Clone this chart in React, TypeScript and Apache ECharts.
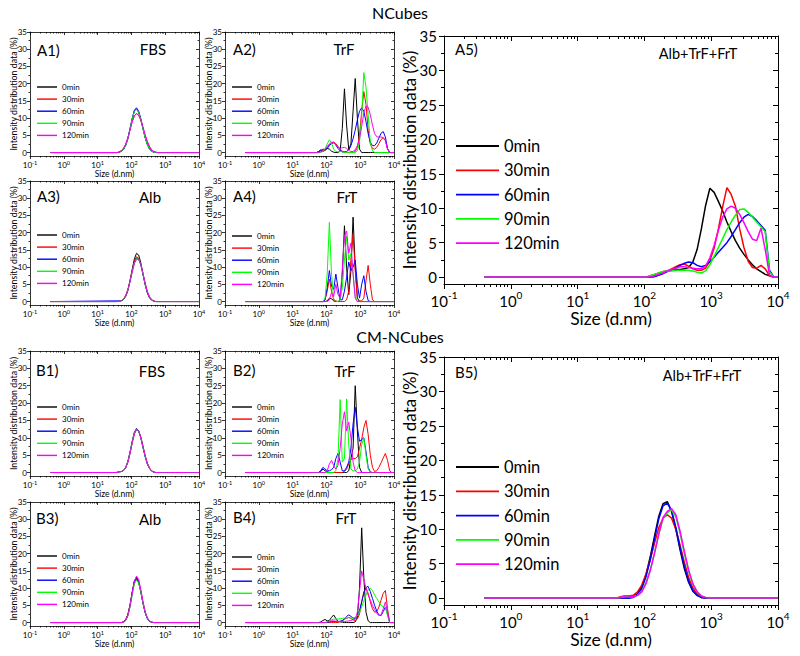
import React, { useEffect, useRef } from 'react';
import * as echarts from 'echarts';

// Zetasizer size bins (nm): first point 0.4 nm, then bins 30..69
const SIZES = [0.4, 32.67, 37.84, 43.82, 50.75, 58.77, 68.06, 78.82, 91.28, 105.7, 122.4, 141.8, 164.2, 190.1, 220.2, 255.0, 295.3, 342.0, 396.1, 458.7, 531.2, 615.1, 712.4, 825.0, 955.4, 1106, 1281, 1484, 1718, 1990, 2305, 2669, 3091, 3580, 4145, 4801, 5560, 6439, 7456, 8635, 10000];
const TIMES = ['0min', '30min', '60min', '90min', '120min'];
const COLORS = ['#000000', '#ff0000', '#0000ff', '#00ff00', '#ff00ff'];
const Y_TICKS = [0, 5, 10, 15, 20, 25, 30, 35];
const Y_MINOR = [2.5, 7.5, 12.5, 17.5, 22.5, 27.5, 32.5];

// ---- NCubes ----
const A1_FBS = [
  [0, 0,0,0.1,0.4,1.0,2.1,4.0,6.8,9.7,12.0, 12.6,11.7,9.6,6.9,4.3,2.4,1.1,0.4,0.1,0, 0,0,0,0,0,0,0,0,0,0, 0,0,0,0,0,0,0,0,0,0],
  [0, 0,0,0.2,0.6,1.3,2.5,4.3,6.7,9.0,10.7, 11.3,10.8,9.3,7.2,5.0,3.1,1.7,0.8,0.3,0.1, 0,0,0,0,0,0,0,0,0,0, 0,0,0,0,0,0,0,0,0,0],
  [0, 0,0,0.1,0.4,1.0,2.2,4.2,7.0,10.0,12.3, 13.0,12.0,9.8,7.0,4.4,2.4,1.1,0.4,0.1,0, 0,0,0,0,0,0,0,0,0,0, 0,0,0,0,0,0,0,0,0,0],
  [0, 0,0,0.1,0.4,1.0,2.1,4.0,6.8,9.7,11.9, 12.5,11.7,9.6,6.9,4.4,2.4,1.1,0.4,0.1,0, 0,0,0,0,0,0,0,0,0,0, 0,0,0,0,0,0,0,0,0,0],
  [0, 0,0,0.1,0.5,1.2,2.4,4.2,6.6,8.9,10.6, 11.3,10.9,9.5,7.4,5.2,3.3,1.8,0.8,0.3,0.1, 0,0,0,0,0,0,0,0,0,0, 0,0,0,0,0,0,0,0,0,0],
];
const A2_TRF = [
  [0, 0,0,0,0,0.3,0.8,0.4,0.6,1.2,1.0, 0.4,0.1,0,0,0.5,7.0,18.5,8.0,0.8,2.5, 12.0,21.5,10.0,1.0,0,0,0,0,0,0, 0,0,0,0,0,0,0,0,0,0],
  [0, 0,0,0,0,0.2,0.5,0.4,0.8,1.5,2.3, 2.8,3.0,2.6,1.8,1.0,0.4,0.1,0,0,0, 0,0.3,1.5,5.0,12.0,17.7,14.0,6.5,2.5,1.2, 1.0,1.5,2.6,3.8,4.3,3.5,1.0,0,0,0],
  [0, 0,0,0,0,0.2,0.6,1.0,0.9,1.2,2.0, 2.6,2.8,2.2,1.2,0.5,0.2,0.2,0.3,0.8,2.0, 4.0,6.5,9.5,12.0,13.0,12.0,9.0,5.5,3.0,2.0, 2.0,2.8,4.2,5.6,6.1,4.5,1.2,0,0,0],
  [0, 0,0,0,0,0,0,0.3,1.0,2.5,3.7, 2.8,1.0,0.3,0.2,0.3,0.2,0,0,0,0, 0,0,0.5,3.0,10.5,23.2,19.0,11.0,3.0,0.5, 0,0,0,0,0,0,0,0,0,0],
  [0, 0,0,0,0,0,0.2,0.5,1.0,1.8,2.5, 3.0,3.0,2.3,1.5,1.2,1.4,1.5,1.2,0.6,0.3, 0.3,0.8,2.0,4.0,7.5,11.5,13.5,13.2,11.0,8.0, 5.5,4.6,4.5,4.5,4.4,3.5,1.0,0,0,0],
];
const A3_ALB = [
  [0, 0,0,0.1,0.2,0.6,1.5,3.2,6.0,9.3,12.4, 14.0,13.5,11.2,8.0,4.9,2.5,1.1,0.4,0.1,0, 0,0,0,0,0,0,0,0,0,0, 0,0,0,0,0,0,0,0,0,0],
  [0, 0,0,0.1,0.3,0.8,1.8,3.6,6.2,9.2,11.8, 13.0,12.6,10.8,8.0,5.1,2.8,1.3,0.5,0.1,0, 0,0,0,0,0,0,0,0,0,0, 0,0,0,0,0,0,0,0,0,0],
  [0, 0.2,0.2,0.2,0.3,0.7,1.6,3.3,5.9,8.8,11.4, 12.6,12.3,10.6,7.9,5.1,2.8,1.3,0.5,0.1,0, 0,0,0,0,0,0,0,0,0,0, 0,0,0,0,0,0,0,0,0,0],
  [0, 0,0,0.1,0.3,0.7,1.6,3.3,5.8,8.7,11.2, 12.5,12.3,10.7,8.0,5.2,2.9,1.4,0.5,0.1,0, 0,0,0,0,0,0,0,0,0,0, 0,0,0,0,0,0,0,0,0,0],
  [0, 0,0,0.1,0.3,0.8,1.7,3.4,5.8,8.6,11.0, 12.3,12.2,10.8,8.2,5.4,3.0,1.4,0.6,0.2,0, 0,0,0,0,0,0,0,0,0,0, 0,0,0,0,0,0,0,0,0,0],
];
const A4_FRT = [
  [0, 0,0,0,0,0,0,0,0,0.2,1.0, 0.8,0.2,0,0,0.5,8.0,22.0,10.0,2.0,9.0, 24.5,10.0,1.0,0,0,0,0,0,0,0, 0,0,0,0,0,0,0,0,0,0],
  [0, 0,0,0,0,0,0,0,0.5,3.0,6.5, 3.0,0.5,0.2,0,0,0,0,0.5,3.0,12.0, 19.5,9.0,1.0,0.2,0.2,1.0,6.0,10.5,5.0,0.5, 0,0,0,0,0,0,0,0,0,0],
  [0, 0,0,0,0,0,0,0,0.5,4.0,9.0, 4.5,3.5,8.0,4.0,0.5,0.5,3.0,7.0,11.5,9.0, 10.0,12.0,5.0,1.0,5.0,7.5,3.0,0.3,0,0, 0,0,0,0,0,0,0,0,0,0],
  [0, 0,0,0,0,0,0,0,1.0,8.0,23.0, 8.0,0.8,0.1,0,0.5,4.0,12.0,19.0,12.0,14.0, 8.0,1.5,0,0,0,0,0,0,0,0, 0,0,0,0,0,0,0,0,0,0],
  [0, 0,0,0,0,0,0,0,0,0,0.5, 2.6,1.5,5.0,2.0,1.0,9.0,19.0,20.5,14.0,17.0, 8.0,1.0,0,0,0,0,0,0,0,0, 0,0,0,0,0,0,0,0,0,0],
];
const A5_MIX = [
  [0, 0,0,0,0,0,0,0,0,0,0, 0.1,0.3,0.6,0.9,1.0,1.1,1.1,1.2,1.4,2.2, 4.0,7.0,10.4,12.9,12.3,11.0,9.6,8.0,6.6,5.3, 4.2,3.3,2.5,1.8,1.2,0.8,0.4,0.2,0,0],
  [0, 0,0,0,0,0,0,0,0,0,0.2, 0.4,0.6,0.8,0.9,1.2,1.5,1.8,1.9,1.6,1.2, 1.0,1.0,1.3,2.4,4.2,7.0,10.2,13.0,12.0,10.3, 7.0,4.3,2.3,1.4,1.3,1.7,1.2,0.2,0,0],
  [0, 0,0,0,0,0,0,0,0,0,0, 0.1,0.3,0.5,0.8,1.0,1.3,1.7,2.0,2.2,2.1, 1.7,1.5,1.7,2.2,2.9,3.6,4.3,5.0,5.9,6.9, 7.9,8.7,9.1,8.8,8.2,7.5,6.8,1.0,0,0],
  [0, 0,0,0,0,0,0,0,0,0,0.2, 0.4,0.6,0.8,0.9,0.9,1.0,1.0,1.0,1.0,0.9, 0.7,0.6,0.9,1.8,3.0,4.3,5.6,6.9,8.0,9.0, 9.8,9.9,9.4,8.7,8.0,7.3,6.6,0.8,0,0],
  [0, 0,0,0,0,0,0,0,0,0,0, 0.2,0.4,0.6,0.9,1.1,1.3,1.5,1.5,1.4,1.3, 1.2,1.2,1.6,2.8,4.6,6.8,8.7,9.9,10.3,10.0, 9.1,7.9,6.6,5.5,5.3,7.1,4.0,0.3,0,0],
];

// ---- CM-NCubes ----
const B1_FBS = [
  [0, 0,0,0.2,0.3,0.6,1.5,3.2,5.8,8.8,11.4, 12.5,11.9,10.0,7.3,4.7,2.6,1.2,0.5,0.1,0, 0,0,0,0,0,0,0,0,0,0, 0,0,0,0,0,0,0,0,0,0],
  [0, 0,0.1,0.3,0.3,0.6,1.4,3.0,5.5,8.5,11.1, 12.3,11.9,10.2,7.6,4.9,2.8,1.3,0.5,0.1,0, 0,0,0,0,0,0,0,0,0,0, 0,0,0,0,0,0,0,0,0,0],
  [0, 0,0,0.2,0.3,0.6,1.5,3.2,5.9,9.0,11.6, 12.7,12.0,10.0,7.2,4.6,2.5,1.2,0.4,0.1,0, 0,0,0,0,0,0,0,0,0,0, 0,0,0,0,0,0,0,0,0,0],
  [0, 0,0,0.2,0.3,0.6,1.5,3.1,5.7,8.8,11.4, 12.5,11.9,10.0,7.3,4.7,2.6,1.2,0.5,0.1,0, 0,0,0,0,0,0,0,0,0,0, 0,0,0,0,0,0,0,0,0,0],
  [0, 0,0,0.2,0.3,0.6,1.4,3.0,5.6,8.6,11.2, 12.4,11.9,10.1,7.5,4.8,2.7,1.3,0.5,0.1,0, 0,0,0,0,0,0,0,0,0,0, 0,0,0,0,0,0,0,0,0,0],
];
const B2_TRF = [
  [0, 0,0,0,0,0,0.3,1.0,0.5,0.2,0, 0,0,0,0,0,0,0,0,0.5,4.0, 7.0,25.0,12.0,1.5,0,0,0,0,0,0, 0,0,0,0,0,0,0,0,0,0],
  [0, 0,0,0,0,0,0,0,0,0,0, 0,0,0,0,0,0,0.3,1.0,2.5,3.8, 4.0,4.0,4.5,7.0,9.5,13.0,15.0,11.0,5.0,1.5, 0.3,0.5,1.5,2.8,4.2,5.5,3.5,0.5,0,0],
  [0, 0,0,0,0,0,0.5,1.5,1.0,0.5,0.5, 0.8,1.5,4.0,5.5,3.0,0.5,0.5,1.5,3.0,7.0, 14.0,18.8,13.0,9.0,9.5,10.0,6.0,1.5,0.2,0, 0,0,0,0,0,0,0,0,0,0],
  [0, 0,0,0,0,0,0,0,0,0,0, 0,0,0.5,4.0,21.0,3.0,4.0,21.2,8.0,1.0, 0.5,0.5,1.0,3.0,8.0,10.0,5.0,1.0,0,0, 0,0,0,0,0,0,0,0,0,0],
  [0, 0,0,0,0,0,0,0,0,0.5,2.5, 3.5,2.0,1.0,2.0,7.0,14.0,17.5,12.0,14.5,10.0, 3.0,0.5,0,0,0,0,0,0,0,0, 0,0,0,0,0,0,0,0,0,0],
];
const B3_ALB = [
  [0, 0,0,0,0,0.2,0.8,2.3,5.0,8.6,11.7, 12.8,11.6,8.8,5.6,2.9,1.2,0.4,0.1,0,0, 0,0,0,0,0,0,0,0,0,0, 0,0,0,0,0,0,0,0,0,0],
  [0, 0,0,0,0,0.2,0.8,2.4,5.2,8.9,12.0, 13.0,11.8,9.0,5.7,3.0,1.3,0.4,0.1,0,0, 0,0,0,0,0,0,0,0,0,0, 0,0,0,0,0,0,0,0,0,0],
  [0, 0,0,0,0,0.2,0.7,2.2,5.0,8.8,12.1, 13.2,12.0,9.1,5.7,2.9,1.2,0.4,0.1,0,0, 0,0,0,0,0,0,0,0,0,0, 0,0,0,0,0,0,0,0,0,0],
  [0, 0,0,0,0,0.1,0.6,1.9,4.5,8.0,11.2, 12.3,11.5,9.0,5.8,3.1,1.3,0.5,0.1,0,0, 0,0,0,0,0,0,0,0,0,0, 0,0,0,0,0,0,0,0,0,0],
  [0, 0,0,0,0,0.1,0.6,2.0,4.7,8.4,11.9, 13.5,12.5,9.6,6.1,3.2,1.4,0.5,0.1,0,0, 0,0,0,0,0,0,0,0,0,0, 0,0,0,0,0,0,0,0,0,0],
];
const B4_FRT = [
  [0, 0,0,0,0,0,0.2,0.6,0.9,0.5,0.6, 1.5,2.2,1.2,0.3,0.2,0.1,0,0,0,0, 0,0.2,1.5,10.0,27.5,13.0,3.0,0.5,0,0, 0,0,0,0,0,0,0,0,0,0],
  [0, 0,0,0,0,0,0,0,0,0,0, 0,0,0,0,0.3,0.6,1.0,1.2,1.5,1.2, 0.8,0.6,1.0,2.5,6.0,9.0,10.0,8.5,6.0,4.0, 3.0,3.2,4.5,6.5,8.5,9.3,4.0,0,0,0],
  [0, 0,0,0,0,0,0,0,0,0,0.2, 0.3,0.3,0.3,0.3,0.4,0.5,1.0,1.8,2.2,1.8, 1.3,1.2,1.8,3.5,6.0,8.5,10.2,10.5,9.0,7.0, 5.0,3.3,2.2,2.0,3.2,4.5,2.5,0,0,0],
  [0, 0,0,0,0,0,0,0,0,0.2,0.5, 0.8,1.0,1.0,1.0,1.1,1.2,1.3,1.4,1.4,1.3, 1.3,1.5,2.0,3.0,4.5,6.3,8.0,9.5,10.0,9.3, 8.0,7.0,6.0,5.0,4.6,4.5,2.0,0,0,0],
  [0, 0,0,0,0,0,0,0,0,0.2,0.4, 0.5,0.5,0.4,0.3,0.3,0.3,0.3,0.4,0.5,0.6, 0.8,1.0,3.0,9.0,15.0,12.5,10.0,8.0,6.5,5.0, 3.8,2.7,2.0,2.2,4.0,6.0,3.0,0,0,0],
];
const B5_MIX = [
  [0, 0,0,0,0,0,0.2,0.6,1.6,3.4,6.0, 9.0,11.9,13.7,14.0,12.6,10.0,7.0,4.3,2.3,1.0, 0.4,0.1,0,0,0,0,0,0,0,0, 0,0,0,0,0,0,0,0,0,0],
  [0, 0,0,0.2,0.3,0.3,0.4,0.9,1.9,3.5,5.6, 8.0,10.2,11.6,12.1,11.6,10.0,7.7,5.2,3.0,1.5, 0.6,0.2,0,0,0,0,0,0,0,0, 0,0,0,0,0,0,0,0,0,0],
  [0, 0,0,0,0,0,0.1,0.5,1.4,3.1,5.6, 8.6,11.5,13.4,13.8,12.7,10.3,7.3,4.6,2.5,1.1, 0.4,0.1,0,0,0,0,0,0,0,0, 0,0,0,0,0,0,0,0,0,0],
  [0, 0,0,0.1,0.2,0.2,0.2,0.4,1.0,2.2,4.1, 6.6,9.3,11.6,12.4,12.8,11.8,9.4,6.5,3.9,2.0, 0.9,0.3,0.1,0,0,0,0,0,0,0, 0,0,0,0,0,0,0,0,0,0],
  [0, 0,0,0.1,0.3,0.3,0.2,0.4,0.9,2.1,4.0, 6.5,9.3,11.7,12.6,13.0,12.1,9.7,6.8,4.1,2.1, 0.9,0.3,0.1,0,0,0,0,0,0,0, 0,0,0,0,0,0,0,0,0,0],
];

const FONT = 'Lato, "Liberation Sans", Arial, sans-serif';

type Panel = {
  id: string; sample: string; data: number[][];
  left: number; top: number; width: number; height: number; big: boolean;
  legendLeft: number; legendTop: number; idX: number; idY: number; sampleX: number; sampleY: number;
};

const PANELS: Panel[] = [
  { id: 'A1)', sample: 'FBS', data: A1_FBS, left: 30, top: 32, width: 169, height: 124, big: false, legendLeft: 37, legendTop: 82, idX: 37, idY: 50, sampleX: 153, sampleY: 49 },
  { id: 'A2)', sample: 'TrF', data: A2_TRF, left: 225, top: 32, width: 169, height: 124, big: false, legendLeft: 232, legendTop: 82, idX: 233, idY: 49, sampleX: 344, sampleY: 49 },
  { id: 'A3)', sample: 'Alb', data: A3_ALB, left: 30, top: 181, width: 169, height: 124, big: false, legendLeft: 37, legendTop: 230, idX: 37, idY: 196, sampleX: 150, sampleY: 197 },
  { id: 'A4)', sample: 'FrT', data: A4_FRT, left: 225, top: 181, width: 169, height: 124, big: false, legendLeft: 232, legendTop: 231, idX: 233, idY: 196, sampleX: 347, sampleY: 197 },
  { id: 'A5)', sample: 'Alb+TrF+FrT', data: A5_MIX, left: 444, top: 36, width: 334, height: 248, big: true, legendLeft: 456, legendTop: 136, idX: 455, idY: 49, sampleX: 698, sampleY: 53 },
  { id: 'B1)', sample: 'FBS', data: B1_FBS, left: 30, top: 351, width: 169, height: 125, big: false, legendLeft: 37, legendTop: 402, idX: 36, idY: 370, sampleX: 152, sampleY: 371 },
  { id: 'B2)', sample: 'TrF', data: B2_TRF, left: 225, top: 351, width: 169, height: 125, big: false, legendLeft: 232, legendTop: 402, idX: 233, idY: 370, sampleX: 345, sampleY: 371 },
  { id: 'B3)', sample: 'Alb', data: B3_ALB, left: 30, top: 502, width: 169, height: 124, big: false, legendLeft: 37, legendTop: 551, idX: 36, idY: 518, sampleX: 150, sampleY: 519 },
  { id: 'B4)', sample: 'FrT', data: B4_FRT, left: 225, top: 502, width: 169, height: 124, big: false, legendLeft: 232, legendTop: 552, idX: 233, idY: 517, sampleX: 346, sampleY: 518 },
  { id: 'B5)', sample: 'Alb+TrF+FrT', data: B5_MIX, left: 444, top: 357, width: 334, height: 248, big: true, legendLeft: 456, legendTop: 457, idX: 455, idY: 372, sampleX: 702, sampleY: 375 },
];

const SMALL = { tickFont: 8, supFont: 5.5, bLH: 9, sLH: 5, xLabelMargin: 3.5, yLabelMargin: 3, majorTick: 3, minorTick: 1.5, nameFont: 8.5, xNameGap: 13, yNameFont: 8.8, yNameGap: 12, lineWidth: 1, axisWidth: 0.8, legendFont: 8, legendLH: 10, legendGap: 2.1, iconW: 20, iconH: 1.4, idFont: 15, sampleFont: 15 };
const BIG = { tickFont: 15, supFont: 10, bLH: 18, sLH: 10, xLabelMargin: 6, yLabelMargin: 7, majorTick: 5, minorTick: 3, nameFont: 17.5, xNameGap: 25.5, yNameFont: 17, yNameGap: 26, lineWidth: 1.5, axisWidth: 1, legendFont: 16.5, legendLH: 20, legendGap: 4.3, iconW: 43, iconH: 1.8, idFont: 15, sampleFont: 14.5 };

function minorLogTicks(): number[] {
  const out: number[] = [];
  for (let e = -1; e <= 3; e++) {
    for (let m = 2; m <= 9; m++) out.push(Math.log10(m * Math.pow(10, e)));
  }
  return out;
}

function buildOption(): any {
  const grid: any[] = [];
  const xAxis: any[] = [];
  const yAxis: any[] = [];
  const series: any[] = [];
  const legend: any[] = [];
  const elements: any[] = [];
  const minorX = minorLogTicks();
  const line = (w: number) => ({ color: '#000', width: w });

  PANELS.forEach((p, gi) => {
    const s = p.big ? BIG : SMALL;
    grid.push({ left: p.left, top: p.top, width: p.width, height: p.height, show: false, containLabel: false, outerBoundsMode: 'none' });
    const xi = xAxis.length;
    xAxis.push({
      type: 'log', logBase: 10, min: 0.1, max: 10000, gridIndex: gi, position: 'bottom',
      axisLine: { show: true, onZero: false, lineStyle: line(s.axisWidth) },
      axisTick: { show: true, inside: false, length: s.majorTick, lineStyle: line(s.axisWidth) },
      minorTick: { show: false }, splitLine: { show: false },
      axisLabel: {
        show: true, margin: s.xLabelMargin, showMinLabel: true, showMaxLabel: true,
        formatter: (v: number) => '{b|10}{s|' + Math.round(Math.log10(v)) + '}',
        rich: {
          b: { fontSize: s.tickFont, lineHeight: s.bLH, verticalAlign: 'bottom', fontFamily: FONT, color: '#000' },
          s: { fontSize: s.supFont, lineHeight: s.sLH, verticalAlign: 'top', fontFamily: FONT, color: '#000' },
        },
      },
      name: 'Size (d.nm)', nameLocation: 'middle', nameGap: s.xNameGap, nameMoveOverlap: false,
      nameTextStyle: { fontSize: s.nameFont, fontFamily: FONT, color: '#000' },
    });
    xAxis.push({
      type: 'value', min: -1, max: 4, gridIndex: gi, position: 'bottom',
      axisLine: { show: false, onZero: false }, axisLabel: { show: false }, splitLine: { show: false },
      axisTick: { show: true, inside: false, length: s.minorTick, customValues: minorX, lineStyle: line(s.axisWidth) },
    });
    xAxis.push({
      type: 'log', logBase: 10, min: 0.1, max: 10000, gridIndex: gi, position: 'top',
      axisLine: { show: true, onZero: false, lineStyle: line(s.axisWidth) },
      axisTick: { show: true, inside: true, length: s.majorTick, lineStyle: line(s.axisWidth) },
      axisLabel: { show: false }, splitLine: { show: false }, minorTick: { show: false },
    });
    xAxis.push({
      type: 'value', min: -1, max: 4, gridIndex: gi, position: 'top',
      axisLine: { show: false, onZero: false }, axisLabel: { show: false }, splitLine: { show: false },
      axisTick: { show: true, inside: true, length: s.minorTick, customValues: minorX, lineStyle: line(s.axisWidth) },
    });
    const yi = yAxis.length;
    yAxis.push({
      type: 'value', min: -1, max: 35, gridIndex: gi, position: 'left',
      axisLine: { show: true, onZero: false, lineStyle: line(s.axisWidth) },
      axisTick: { show: true, inside: false, length: s.majorTick, customValues: Y_TICKS, lineStyle: line(s.axisWidth) },
      axisLabel: { show: true, customValues: Y_TICKS, margin: s.yLabelMargin, fontSize: s.tickFont, fontFamily: FONT, color: '#000' },
      splitLine: { show: false },
      name: 'Intensity distribution data (%)', nameLocation: 'middle', nameGap: s.yNameGap, nameMoveOverlap: false,
      nameTextStyle: { fontSize: s.yNameFont, fontFamily: FONT, color: '#000' },
    });
    yAxis.push({
      type: 'value', min: -1, max: 35, gridIndex: gi, position: 'left',
      axisLine: { show: false, onZero: false }, axisLabel: { show: false }, splitLine: { show: false },
      axisTick: { show: true, inside: false, length: s.minorTick, customValues: Y_MINOR, lineStyle: line(s.axisWidth) },
    });
    yAxis.push({
      type: 'value', min: -1, max: 35, gridIndex: gi, position: 'right',
      axisLine: { show: true, onZero: false, lineStyle: line(s.axisWidth) },
      axisTick: { show: true, inside: true, length: s.majorTick, customValues: Y_TICKS, lineStyle: line(s.axisWidth) },
      axisLabel: { show: false }, splitLine: { show: false },
    });
    yAxis.push({
      type: 'value', min: -1, max: 35, gridIndex: gi, position: 'right',
      axisLine: { show: false, onZero: false }, axisLabel: { show: false }, splitLine: { show: false },
      axisTick: { show: true, inside: true, length: s.minorTick, customValues: Y_MINOR, lineStyle: line(s.axisWidth) },
    });

    TIMES.forEach((t, k) => {
      series.push({
        type: 'line', name: t, xAxisIndex: xi, yAxisIndex: yi,
        data: SIZES.map((sz, i) => [sz, p.data[k][i]]),
        symbol: 'none', showSymbol: false, smooth: false, silent: true, clip: true,
        color: COLORS[k], itemStyle: { color: COLORS[k] },
        lineStyle: { color: COLORS[k], width: s.lineWidth },
      });
    });

    legend.push({
      show: true, orient: 'vertical', left: p.legendLeft, top: p.legendTop, padding: 0,
      data: TIMES, icon: 'rect', itemWidth: s.iconW, itemHeight: s.iconH, itemGap: s.legendGap,
      selectedMode: false, align: 'left',
      itemStyle: { borderWidth: 0 },
      textStyle: { fontSize: s.legendFont, lineHeight: s.legendLH, fontFamily: FONT, color: '#000' },
    });

    elements.push({
      type: 'text', x: p.idX, y: p.idY, silent: true,
      style: { text: p.id, fontSize: s.idFont, fontFamily: FONT, fill: '#000', align: 'left', verticalAlign: 'middle' },
    });
    elements.push({
      type: 'text', x: p.sampleX, y: p.sampleY, silent: true,
      style: { text: p.sample, fontSize: s.sampleFont, fontFamily: FONT, fill: '#000', align: 'center', verticalAlign: 'middle' },
    });
  });

  elements.push({
    type: 'text', x: 400, y: 12, silent: true,
    style: { text: 'NCubes', fontSize: 16, fontFamily: FONT, fill: '#000', align: 'center', verticalAlign: 'middle' },
  });
  elements.push({
    type: 'text', x: 400, y: 336, silent: true,
    style: { text: 'CM-NCubes', fontSize: 16, fontFamily: FONT, fill: '#000', align: 'center', verticalAlign: 'middle' },
  });

  return {
    animation: false,
    backgroundColor: '#ffffff',
    textStyle: { fontFamily: FONT },
    grid, xAxis, yAxis, series, legend,
    graphic: { elements },
  };
}

export default function App() {
  const ref = useRef<HTMLDivElement>(null);
  useEffect(() => {
    if (!ref.current) return;
    const chart = echarts.init(ref.current, null, { renderer: 'svg' });
    chart.setOption(buildOption());
    return () => chart.dispose();
  }, []);
  return (
    <div
      ref={ref}
      style={{ position: 'fixed', left: 0, top: 0, width: 800, height: 656, background: '#fff' }}
    />
  );
}
